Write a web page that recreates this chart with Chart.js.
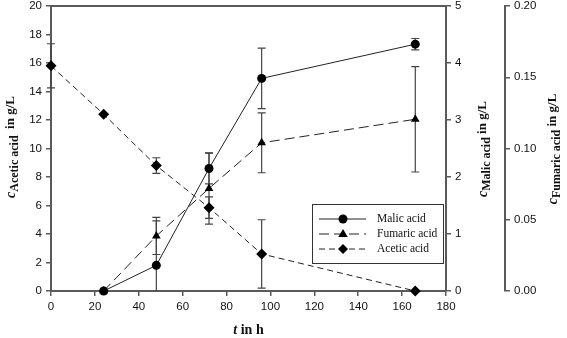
<!DOCTYPE html>
<html><head><meta charset="utf-8">
<script src="https://cdn.jsdelivr.net/npm/chart.js@4"></script>
<style>html,body{margin:0;padding:0;background:#fff;}canvas{display:block;}</style>
</head><body>
<canvas id="c" width="567" height="338"></canvas>
<script>
// ---- data ----
const malicTimes   = [24, 48, 72, 96, 166];
const malicValues  = [0, 0.45, 2.15, 3.73, 4.33];
const malicErrors  = [0, 0.78, 0.27, 0.53, 0.10];

const fumaricTimes  = [24, 48, 72, 96, 166];
const fumaricValues = [0, 0.0386, 0.072, 0.104, 0.1205];
const fumaricErrors = [0, 0.013, 0.025, 0.021, 0.037];

const aceticTimes  = [0, 24, 48, 72, 96, 166];
const aceticValues = [15.8, 12.4, 8.8, 5.85, 2.6, 0];
const aceticErrors = [1.55, 0, 0.55, 0.75, 2.4, 0];

const seriesNames = ['Malic acid', 'Fumaric acid', 'Acetic acid'];
const xRange = [0, 180, 20];
const aceticRange = [0, 20, 2];
const malicRange = [0, 5, 1];
const fumaricRange = [0, 0.2, 0.05];

// ---- styling ----
const AX = '#5a5a5a';
const TICKFONT = {family: '"Liberation Sans", Arial, sans-serif', size: 11.5};
const SERIF = '"Liberation Serif", "Times New Roman", serif';
const pts = (xs, ys) => xs.map((x, i) => ({x: x, y: ys[i]}));

function axisCommon(range, extra) {
  return Object.assign({
    min: range[0], max: range[1],
    ticks: {stepSize: range[2], font: TICKFONT, color: '#111', padding: 4},
    grid: {drawOnChartArea: false, drawTicks: true, tickLength: 5, color: AX, lineWidth: 1.5},
    border: {color: AX, width: 2}
  }, extra);
}
function fitV(w) { return function (s) { s.width = w; s.paddingTop = 0; s.paddingBottom = 0; }; }

const errorBars = {
  id: 'errorBars',
  beforeDatasetsDraw(chart) {
    const ctx = chart.ctx;
    ctx.save();
    ctx.strokeStyle = '#444';
    ctx.lineWidth = 1.2;
    chart.data.datasets.forEach((ds) => {
      const ys = chart.scales[ds.yAxisID];
      const xs = chart.scales.x;
      ds.data.forEach((p, i) => {
        const e = ds.errors[i];
        if (!e) return;
        const px = xs.getPixelForValue(p.x);
        const lo = Math.max(p.y - e, ys.min);
        const yTop = ys.getPixelForValue(p.y + e);
        const yBot = ys.getPixelForValue(lo);
        ctx.beginPath();
        ctx.moveTo(px, yTop); ctx.lineTo(px, yBot);
        ctx.moveTo(px - 4, yTop); ctx.lineTo(px + 4, yTop);
        if (p.y - e >= ys.min) { ctx.moveTo(px - 4, yBot); ctx.lineTo(px + 4, yBot); }
        ctx.stroke();
      });
    });
    ctx.restore();
  }
};

function drawRich(ctx, cx, cy, parts, rotate) {
  ctx.save();
  ctx.translate(cx, cy);
  if (rotate) ctx.rotate(-Math.PI / 2);
  ctx.textBaseline = 'middle';
  ctx.textAlign = 'left';
  ctx.fillStyle = '#111';
  let total = 0;
  parts.forEach(p => { ctx.font = p.font; p.w = ctx.measureText(p.text).width; total += p.w; });
  let x = -total / 2;
  parts.forEach(p => { ctx.font = p.font; ctx.fillText(p.text, x, p.dy || 0); x += p.w; });
  ctx.restore();
}

function marker(ctx, style, x, y) {
  ctx.beginPath();
  if (style === 'circle') {
    ctx.arc(x, y, 4.5, 0, Math.PI * 2);
  } else if (style === 'triangle') {
    const r = 5;
    ctx.moveTo(x, y - r);
    ctx.lineTo(x + r * 0.95, y + r * 0.6);
    ctx.lineTo(x - r * 0.95, y + r * 0.6);
    ctx.closePath();
  } else {
    const r = 5;
    ctx.moveTo(x, y - r); ctx.lineTo(x + r, y); ctx.lineTo(x, y + r); ctx.lineTo(x - r, y); ctx.closePath();
  }
  ctx.fill();
}

const overlay = {
  id: 'overlay',
  afterDraw(chart) {
    const ctx = chart.ctx;
    const a = chart.chartArea;
    ctx.save();
    ctx.strokeStyle = AX; ctx.lineWidth = 2;
    ctx.beginPath(); ctx.moveTo(a.left - 1, a.top); ctx.lineTo(a.right + 1, a.top); ctx.stroke();
    ctx.restore();

    const sub = 'bold 12px ' + SERIF;
    const cI = 'italic bold 14px ' + SERIF;
    const nrm = 'bold 13px ' + SERIF;
    drawRich(ctx, 11, 147, [
      {text: 'c', font: cI, dy: 0},
      {text: 'Acetic acid', font: sub, dy: 4},
      {text: '  in g/L', font: nrm, dy: 0}
    ], true);
    drawRich(ctx, 483, 149, [
      {text: 'c', font: cI, dy: 0},
      {text: 'Malic acid', font: sub, dy: 4},
      {text: ' in g/L', font: nrm, dy: 0}
    ], true);
    drawRich(ctx, 553, 149, [
      {text: 'c', font: cI, dy: 0},
      {text: 'Fumaric acid', font: sub, dy: 4},
      {text: ' in g/L', font: nrm, dy: 0}
    ], true);
    drawRich(ctx, (a.left + a.right) / 2, 330, [
      {text: 't', font: 'italic bold 14px ' + SERIF},
      {text: ' in h', font: 'bold 14px ' + SERIF}
    ], false);

    // legend
    ctx.save();
    ctx.strokeStyle = '#333'; ctx.lineWidth = 1;
    ctx.fillStyle = '#fff';
    ctx.fillRect(312, 204, 131, 59);
    ctx.strokeRect(312.5, 204.5, 131, 59);
    const rows = [219, 234, 249];
    chart.data.datasets.forEach((ds, i) => {
      const y = rows[i];
      ctx.strokeStyle = '#222'; ctx.lineWidth = 1;
      ctx.setLineDash(ds.borderDash || []);
      ctx.beginPath(); ctx.moveTo(319, y); ctx.lineTo(366, y); ctx.stroke();
      ctx.setLineDash([]);
      ctx.fillStyle = '#000';
      marker(ctx, ds.legendStyle, 343, y);
      ctx.fillStyle = '#111';
      ctx.font = '11.5px ' + SERIF;
      ctx.textBaseline = 'middle';
      ctx.textAlign = 'left';
      ctx.fillText(ds.label, 377, y);
    });
    ctx.restore();
  }
};

new Chart(document.getElementById('c').getContext('2d'), {
  type: 'line',
  data: {
    datasets: [
      {label: seriesNames[0], data: pts(malicTimes, malicValues), errors: malicErrors, yAxisID: 'y1',
       borderColor: '#222', borderWidth: 1, pointStyle: 'circle', pointRadius: 4.5,
       pointBackgroundColor: '#000', pointBorderColor: '#000', pointBorderWidth: 0, legendStyle: 'circle', clip: false},
      {label: seriesNames[1], data: pts(fumaricTimes, fumaricValues), errors: fumaricErrors, yAxisID: 'y2',
       borderColor: '#222', borderWidth: 1, borderDash: [10, 5], pointStyle: 'triangle', pointRadius: 5,
       pointBackgroundColor: '#000', pointBorderColor: '#000', pointBorderWidth: 0, legendStyle: 'triangle', clip: false},
      {label: seriesNames[2], data: pts(aceticTimes, aceticValues), errors: aceticErrors, yAxisID: 'y',
       borderColor: '#222', borderWidth: 1, borderDash: [6, 4], pointStyle: 'rectRot', pointRadius: 5.5,
       pointBackgroundColor: '#000', pointBorderColor: '#000', pointBorderWidth: 0, legendStyle: 'diamond', clip: false}
    ]
  },
  options: {
    responsive: false, animation: false, devicePixelRatio: 1,
    layout: {padding: {top: 6, left: 0, right: 0, bottom: 0}},
    plugins: {legend: {display: false}, tooltip: {enabled: false}},
    scales: {
      x: axisCommon(xRange, {type: 'linear', position: 'bottom',
        afterFit(s) { s.height = 47; }}),
      y: axisCommon(aceticRange, {position: 'left', weight: 0, afterFit: fitV(51)}),
      y1: axisCommon(malicRange, {position: 'right', weight: 0, afterFit: fitV(59)}),
      y2: axisCommon(fumaricRange, {position: 'right', weight: 1,
        ticks: {stepSize: fumaricRange[2], font: TICKFONT, color: '#111', padding: 4, callback: v => v.toFixed(2)},
        afterFit: fitV(62)})
    }
  },
  plugins: [errorBars, overlay]
});
</script>
</body></html>
